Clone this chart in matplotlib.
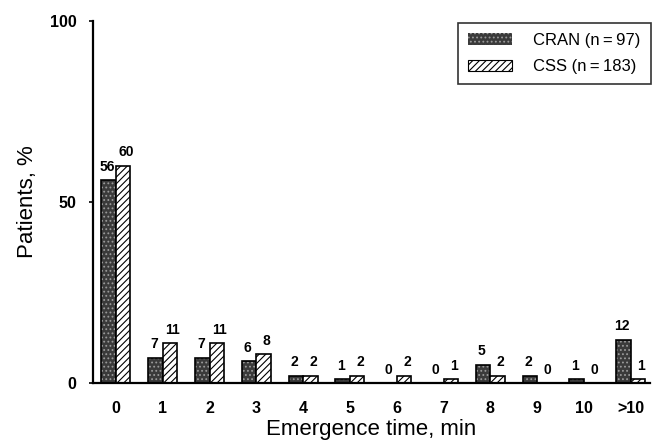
import matplotlib
matplotlib.use("Agg")
import matplotlib.pyplot as plt
import numpy as np
from matplotlib.patches import Patch

categories = ['0', '1', '2', '3', '4', '5', '6', '7', '8', '9', '10', '>10']
cran = [56, 7, 7, 6, 2, 1, 0, 0, 5, 2, 1, 12]
css = [60, 11, 11, 8, 2, 2, 2, 1, 2, 0, 0, 1]
cran_label = 'CRAN (n\u2009=\u200997)'
css_label = 'CSS (n\u2009=\u2009183)'

plt.rcParams['font.family'] = ['Liberation Sans', 'DejaVu Sans']
plt.rcParams['hatch.linewidth'] = 0.8

fig = plt.figure(figsize=(6.53, 4.43), dpi=100)
ax = fig.add_axes([0.1424, 0.1354, 0.853, 0.8172])

x = np.arange(len(categories))
w = 0.31

# CRAN: stippled dark fill
ax.bar(x - w / 2, cran, w, color='#3a3a3a', edgecolor='#9a9a9a', hatch='....', linewidth=0)
ax.bar(x - w / 2, cran, w, fill=False, edgecolor='black', linewidth=1.2)
# CSS: diagonal hatch
ax.bar(x + w / 2, css, w, color='white', edgecolor='black', hatch='/////', linewidth=1.2)

for xi, v in zip(x, cran):
    ax.text(xi - w / 2 - 0.03, v + 1.8, str(v), ha='center', va='bottom', fontsize=10, fontweight='bold')
for xi, v in zip(x, css):
    ax.text(xi + w / 2 + 0.06, v + 1.8, str(v), ha='center', va='bottom', fontsize=10, fontweight='bold')

ax.set_xlim(-0.49, 11.41)
ax.set_ylim(0, 100)
ax.set_yticks([0, 50, 100])
ax.set_yticklabels(['0', '50', '100'], fontsize=11.5, fontweight='bold')
ax.set_xticks(x)
ax.set_xticklabels(categories, fontsize=11.5, fontweight='bold')
ax.tick_params(axis='x', length=0, pad=13)
ax.tick_params(axis='y', length=3, width=1.2, pad=9)

for s in ['top', 'right']:
    ax.spines[s].set_visible(False)
ax.spines['left'].set_linewidth(1.6)
ax.spines['bottom'].set_linewidth(1.6)

ax.set_ylabel('Patients, %', fontsize=16)
ax.yaxis.set_label_coords(-0.117, 0.5)
ax.set_xlabel('Emergence time, min', fontsize=16)
ax.xaxis.set_label_coords(0.5, -0.128)
ax.xaxis.label.set_va('center')
ax.yaxis.label.set_va('center')

handles = [
    Patch(facecolor='#3a3a3a', edgecolor='#9a9a9a', hatch='....', linewidth=0),
    Patch(facecolor='white', edgecolor='black', hatch='/////', linewidth=0.8),
]
leg = ax.legend(handles, [cran_label, css_label], loc='upper right', bbox_to_anchor=(1.007, 1.005),
                fontsize=12, frameon=True, fancybox=False, edgecolor='black',
                handlelength=2.6, handleheight=0.7, borderpad=0.6, labelspacing=0.7, handletextpad=1.3,
                borderaxespad=0.2)
leg.get_frame().set_linewidth(1.2)

fig.savefig('out.png', dpi=100)
